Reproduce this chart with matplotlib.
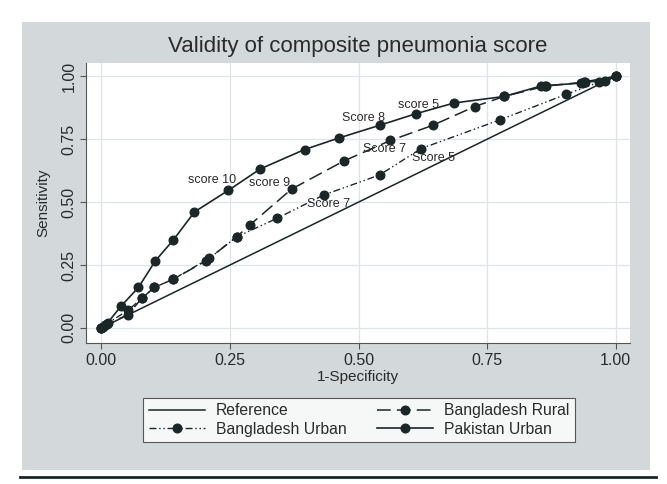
import matplotlib
matplotlib.use("Agg")
import matplotlib.pyplot as plt
from matplotlib.patches import Rectangle
from matplotlib.lines import Line2D

plt.rcParams['font.family'] = ['Liberation Sans', 'DejaVu Sans']

# ROC points (1-specificity, sensitivity)
ref_x = [0.0, 1.0]
ref_y = [0.0, 1.0]

urban_x = [0.0, 0.013, 0.052, 0.078, 0.103, 0.140, 0.210, 0.263, 0.342, 0.432,
           0.541, 0.622, 0.775, 0.903, 0.968, 1.0]
urban_y = [0.0, 0.020, 0.070, 0.117, 0.161, 0.194, 0.277, 0.362, 0.436, 0.528,
           0.608, 0.713, 0.827, 0.928, 0.977, 1.0]

rural_x = [0.0, 0.007, 0.052, 0.078, 0.103, 0.140, 0.203, 0.263, 0.288, 0.370,
           0.472, 0.562, 0.644, 0.726, 0.783, 0.863, 0.939, 0.980, 1.0]
rural_y = [0.0, 0.011, 0.053, 0.117, 0.161, 0.194, 0.266, 0.362, 0.408, 0.552,
           0.664, 0.745, 0.805, 0.880, 0.920, 0.961, 0.977, 0.982, 1.0]

pak_x = [0.0, 0.004, 0.010, 0.038, 0.072, 0.105, 0.140, 0.181, 0.247, 0.309,
         0.395, 0.462, 0.542, 0.611, 0.686, 0.783, 0.854, 0.864, 0.932, 0.940, 1.0]
pak_y = [0.0, 0.004, 0.015, 0.086, 0.161, 0.267, 0.350, 0.461, 0.547, 0.632,
         0.709, 0.755, 0.806, 0.851, 0.894, 0.920, 0.961, 0.963, 0.973, 0.978, 1.0]

# marker labels: (series, point index, text, offset in pixels)
score_labels = [
    ("pak", 8, "score 10", (-16, 10)),
    ("rural", 9, "score 9", (-22, 6)),
    ("pak", 12, "Score 8", (-17, 7)),
    ("pak", 13, "score 5", (3, 9)),
    ("rural", 11, "Score 7", (-6, -9)),
    ("urban", 11, "Score 5", (12, -9)),
    ("urban", 9, "Score 7", (5, -9)),
]

ticks = [0.0, 0.25, 0.5, 0.75, 1.0]
tick_text = ["0.00", "0.25", "0.50", "0.75", "1.00"]

ink = '#1b2626'
panel = '#d3d9da'
grid_c = '#dde5e9'
txt_c = '#2a2a2a'

fig = plt.figure(figsize=(6.67, 4.84), dpi=100)
fig.patch.set_facecolor('white')

# grey Stata panel and the rule under it
fig.add_artist(Rectangle((22 / 667, 1 - 470 / 484), 628 / 667, 448 / 484,
                         transform=fig.transFigure, facecolor=panel,
                         edgecolor='none', zorder=-10))
fig.add_artist(Line2D([20 / 667, 656 / 667], [1 - 477 / 484, 1 - 477 / 484],
                      transform=fig.transFigure, color=ink, lw=2.0))

ax = fig.add_axes([86 / 667, 1 - 343 / 484, 544 / 667, 280 / 484])
ax.set_facecolor('white')

ms = 6.2
ax.plot(ref_x, ref_y, color=ink, lw=1.1, label='Reference')
l_urban, = ax.plot(urban_x, urban_y, color=ink, lw=1.0, marker='o', ms=ms,
                   dashes=(5, 2, 1, 2, 1, 2), label='Bangladesh Urban')
l_rural, = ax.plot(rural_x, rural_y, color=ink, lw=1.1, marker='o', ms=ms,
                   dashes=(9, 4), label='Bangladesh Rural')
l_pak, = ax.plot(pak_x, pak_y, color=ink, lw=1.2, marker='o', ms=ms,
                 label='Pakistan Urban')

series = {"pak": (pak_x, pak_y), "rural": (rural_x, rural_y),
          "urban": (urban_x, urban_y)}
for name, i, txt, off in score_labels:
    xs, ys = series[name]
    ax.annotate(txt, (xs[i], ys[i]), xytext=off, textcoords='offset pixels',
                ha='center', va='center', fontsize=9, color=txt_c)

ax.set_xlim(-0.030, 1.028)
ax.set_ylim(-0.060, 1.053)
ax.set_xticks(ticks)
ax.set_xticklabels(tick_text)
ax.set_yticks(ticks)
ax.set_yticklabels(tick_text, rotation=90, va='center')
ax.grid(True, color=grid_c, lw=0.9)
ax.set_axisbelow(True)
for s in ['top', 'right']:
    ax.spines[s].set_visible(False)
for s in ['left', 'bottom']:
    ax.spines[s].set_color('#555')
    ax.spines[s].set_linewidth(0.8)
ax.tick_params(direction='out', length=4, width=0.8, color='#555',
               labelsize=11.5, labelcolor=txt_c, pad=3)

ax.set_title('Validity of composite pneumonia score', fontsize=16,
             color=txt_c, pad=8)
ax.set_xlabel('1-Specificity', fontsize=11, color=txt_c, labelpad=2)
ax.set_ylabel('Sensitivity', fontsize=11, color=txt_c, labelpad=8)

handles = [ax.lines[0], l_urban, l_rural, l_pak]
leg = fig.legend(handles, [h.get_label() for h in handles], ncol=2,
                 loc='center', bbox_to_anchor=(359 / 667, 1 - 420 / 484),
                 fontsize=11.3, frameon=True, fancybox=False, handlelength=3.6,
                 columnspacing=1.9, handletextpad=0.7, borderpad=0.35,
                 labelspacing=0.25)
leg.get_frame().set_edgecolor('#333')
leg.get_frame().set_linewidth(0.8)
for t in leg.get_texts():
    t.set_color(txt_c)

fig.savefig('out.png', dpi=100)
